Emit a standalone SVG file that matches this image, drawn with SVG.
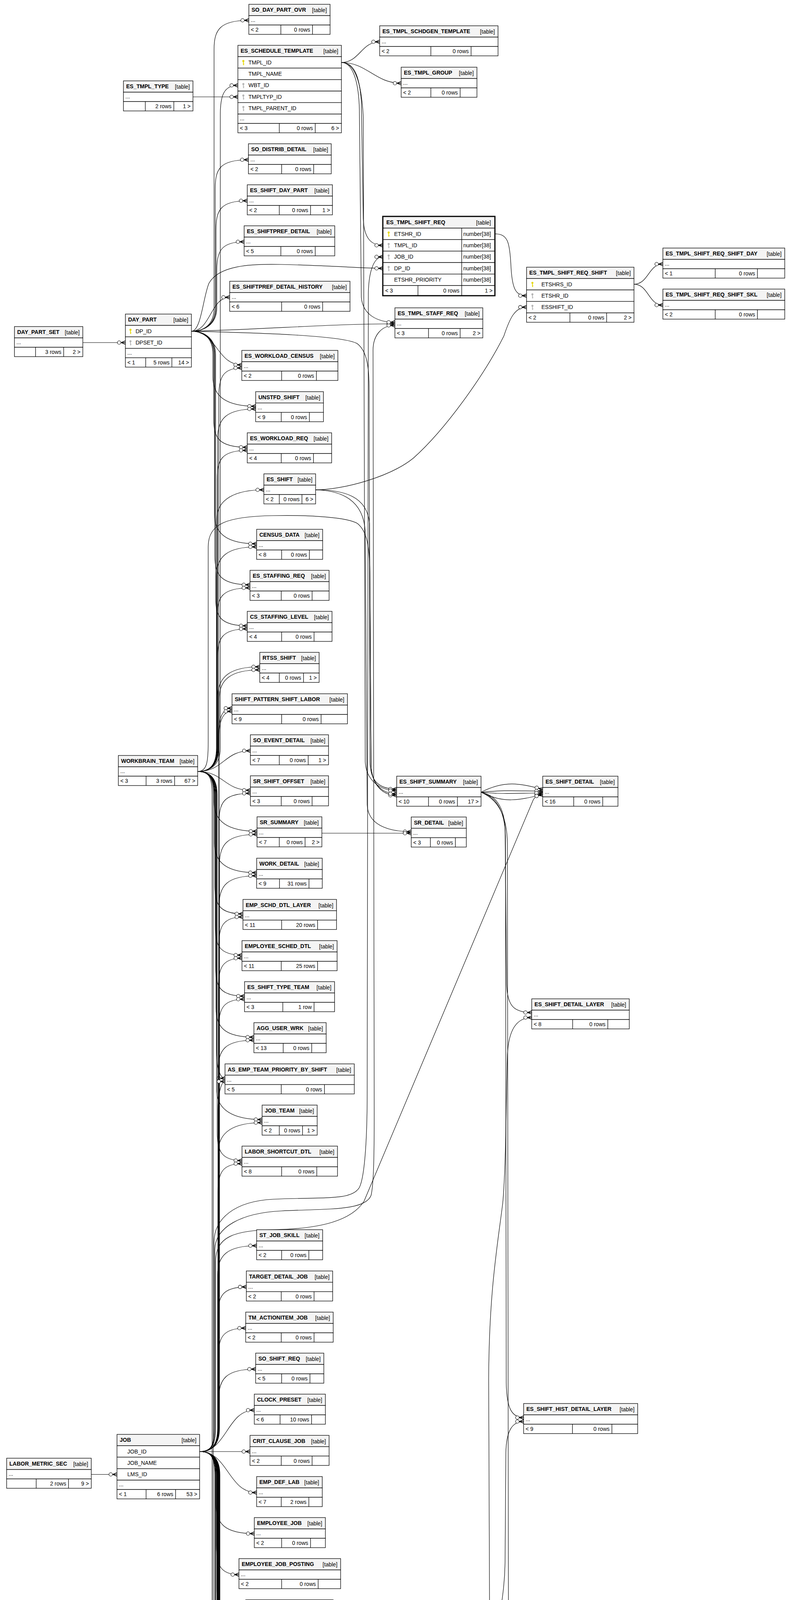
<svg xmlns="http://www.w3.org/2000/svg" width="2025" height="6158" viewBox="0 0 2025 6158">
<style>
.h{fill:#f4f4f4;stroke:#000;stroke-width:1.3}
.b{fill:#fff;stroke:#000;stroke-width:1.3}
.l{fill:none;stroke:#000;stroke-width:1.3}
.n{font-family:"Liberation Sans",Arial,sans-serif;font-size:14px;font-weight:bold}
.s{font-family:"Liberation Sans",Arial,sans-serif;font-size:14px}
.r{text-anchor:end}
.c{fill:none;stroke:#000;stroke-width:1.2;marker-end:url(#cf)}
</style>
<defs>
<marker id="cf" viewBox="-23 -8 25 16" refX="0" refY="0" markerWidth="25" markerHeight="16" markerUnits="userSpaceOnUse" orient="auto">
<path d="M-11,0L0,-4.5M-11,0L0,4.5M-11,0L0,0" fill="none" stroke="#000" stroke-width="1.6"/>
<circle cx="-16" cy="0" r="4.5" fill="#fff" stroke="#000" stroke-width="1.2"/>
</marker>
<g id="ky"><circle cy="-3.5" r="2.6" fill="#e6d800"/><rect x="-0.9" y="-2" width="1.8" height="9" fill="#e6d800"/><rect x="0.5" y="3" width="2" height="1.3" fill="#e6d800"/><rect x="0.5" y="5.3" width="1.6" height="1.3" fill="#e6d800"/></g>
<g id="kg"><circle cy="-3.5" r="2.6" fill="#b4b4b4"/><rect x="-0.9" y="-2" width="1.8" height="9" fill="#b4b4b4"/><rect x="0.5" y="3" width="2" height="1.3" fill="#b4b4b4"/><rect x="0.5" y="5.3" width="1.6" height="1.3" fill="#b4b4b4"/></g>
</defs>
<rect width="2025" height="6158" fill="#fff"/>
<g id="connectors">
<path class="c" d="M212,877L321,877"/>
<path class="c" d="M494,248L609,248"/>
<path class="c" d="M233.6,3774.5L299.5,3774.5"/>
<path class="c" d="M490,848C520,848 548,833 548,788L548,127C548,77 562,52 637,52"/>
<path class="c" d="M490,848C520,848 551,833 551,788L551,484C551,434 561,409 636,409"/>
<path class="c" d="M490,848C520,848 553,833 553,788L553,589C553,539 563,514 633,514"/>
<path class="c" d="M490,848C520,848 555,833 555,788L555,694C555,644 565,619 625,619"/>
<path class="c" d="M490,848C539,848 539,761 588,761"/>
<path class="c" d="M490,848C515,848 520,760 535,725C560,680 640,675 720,677C850,680 930,687 980,687"/>
<path class="c" d="M490,848C700,842 850,829 1011,829"/>
<path class="c" d="M490,848C650,852 880,858 915,880C940,900 945,940 945,1000L947,1950C948,2000 970,2020 1015.5,2020"/>
<path class="c" d="M490,848C555,848 555,934 619,934"/>
<path class="c" d="M490,848C520,848 545,863 545,908L545,965C545,1015 579.5,1040 654.5,1040"/>
<path class="c" d="M490,848C520,848 547,863 547,908L547,1070C547,1120 558,1145 633,1145"/>
<path class="c" d="M490,848C520,848 549,863 549,908L549,1317C549,1367 582,1392 657,1392"/>
<path class="c" d="M490,848C520,848 550,863 550,908L550,1422C550,1472 565,1497 640,1497"/>
<path class="c" d="M490,848C520,848 552,863 552,908L552,1527C552,1577 562,1602 633,1602"/>
<path class="c" d="M506,1975C536,1975 564,1960 564,1915L564,293C564,243 574,218.5 609,218.5"/>
<path class="c" d="M506,1975C536,1975 560,1960 560,1915L560,1017C560,967 570,942 619,942"/>
<path class="c" d="M506,1975C536,1975 557,1960 557,1915L557,1122C557,1072 579.5,1047 654.5,1047"/>
<path class="c" d="M506,1975C536,1975 556,1960 556,1915L556,1228C556,1178 566,1153 633,1153"/>
<path class="c" d="M506,1975C536,1975 555,1960 555,1915L555,1329C555,1279 600.5,1254 675.5,1254"/>
<path class="c" d="M506,1975C536,1975 554,1960 554,1915L554,1475C554,1425 582,1400 657,1400"/>
<path class="c" d="M506,1975C536,1975 556,1960 556,1915L556,1580C556,1530 566,1505 640,1505"/>
<path class="c" d="M506,1975C536,1975 557,1960 557,1915L557,1685C557,1635 567,1610 633,1610"/>
<path class="c" d="M506,1975C536,1975 558,1960 558,1915L558,1782C558,1732 590,1707 665,1707"/>
<path class="c" d="M506,1975C536,1975 559,1960 559,1915L559,1888C559,1838 569,1813 594,1813"/>
<path class="c" d="M506,1975C573,1975 573,1922 641,1922"/>
<path class="c" d="M506,1975C573,1975 573,2023 641,2023"/>
<path class="c" d="M506,1975C536,1975 548,1990 548,2035L548,2053C548,2103 583,2128 658,2128"/>
<path class="c" d="M506,1975C536,1975 549,1990 549,2035L549,2159C549,2209 582,2234 657,2234"/>
<path class="c" d="M506,1975C536,1975 550,1990 550,2035L550,2264.5C550,2314.5 560,2339.5 622,2339.5"/>
<path class="c" d="M506,1975C536,1975 551,1990 551,2035L551,2370C551,2420 561,2445 619.5,2445"/>
<path class="c" d="M506,1975C536,1975 552,1990 552,2035L552,2475C552,2525 562,2550 626,2550"/>
<path class="c" d="M506,1975C536,1975 553,1990 553,2035L553,2580C553,2630 575,2655 650,2655"/>
<path class="c" d="M506,1975C536,1975 554,1990 554,2035L554,2685.5C554,2735.5 564,2760.5 576,2760.5"/>
<path class="c" d="M506,1975C536,1975 555,1990 555,2035L555,2791C555,2841 596,2866 671,2866"/>
<path class="c" d="M506,1975C536,1975 556,1990 556,2035L556,2896C556,2946 566,2971 619.5,2971"/>
<path class="c" d="M506,1975C536,1975 546,1990 546,2035L546,5990C546,6040 620,6051 740,6051C840,6051 890,6035 915,6015C1010,5925 1160,5760 1210,5620C1250,5500 1254,5300 1254,5050L1254,4300C1254,4000 1250,3700 1251,3530C1252,3300 1275,3180 1287,3080C1295,3000 1296,2800 1299,2700C1302,2640 1320,2605 1361.3,2605"/>
<path class="c" d="M506,1975C536,1975 543,1990 543,2035L543,6040C543,6090 640,6107 780,6107C950,6107 1150,6075 1230,6020C1300,5975 1322,5900 1320,5850C1318,5780 1288,5720 1291,5660C1294,5625 1315,5606 1361,5606"/>
<path class="c" d="M506,1975C530,1975 533,1950 533,1900L533,1400C533,1340 580,1322 700,1320C800,1318 890,1325 915,1340C940,1360 947,1400 947,1480L950,1960C952,2005 975,2036 1015.5,2036"/>
<path class="c" d="M511,3716C541,3716 561,3701 561,3656L561,1790C561,1740 590,1715 665,1715"/>
<path class="c" d="M511,3716C541,3716 560,3701 560,3656L560,1896C560,1846 570,1821 594,1821"/>
<path class="c" d="M511,3716C541,3716 561,3701 561,3656L561,2106C561,2056 571,2031 641,2031"/>
<path class="c" d="M511,3716C541,3716 562,3701 562,3656L562,2211C562,2161 583,2136 658,2136"/>
<path class="c" d="M511,3716C541,3716 561,3701 561,3656L561,2317C561,2267 582,2242 657,2242"/>
<path class="c" d="M511,3716C541,3716 560,3701 560,3656L560,2422.5C560,2372.5 570,2347.5 622,2347.5"/>
<path class="c" d="M511,3716C541,3716 559,3701 559,3656L559,2528C559,2478 569,2453 619.5,2453"/>
<path class="c" d="M511,3716C541,3716 560,3701 560,3656L560,2633C560,2583 570,2558 626,2558"/>
<path class="c" d="M511,3716C541,3716 559,3701 559,3656L559,2738C559,2688 575,2663 650,2663"/>
<path class="c" d="M511,3716C541,3716 558,3701 558,3656L558,2843.5C558,2793.5 568,2768.5 576,2768.5"/>
<path class="c" d="M511,3716C541,3716 559,3701 559,3656L559,2949C559,2899 596,2874 671,2874"/>
<path class="c" d="M511,3716C541,3716 558,3701 558,3656L558,3054C558,3004 568,2979 619.5,2979"/>
<path class="c" d="M511,3716C541,3716 557,3701 557,3656L557,3264C557,3214 582,3189 657,3189"/>
<path class="c" d="M511,3716C541,3716 558,3701 558,3656L558,3369.6C558,3319.6 568,3294.6 630.6,3294.6"/>
<path class="c" d="M511,3716C541,3716 559,3701 559,3656L559,3475C559,3425 569,3400 629,3400"/>
<path class="c" d="M511,3716C541,3716 560,3701 560,3656L560,3580C560,3530 579.5,3505 654.5,3505"/>
<path class="c" d="M511,3716C581,3716 581,3610 651,3610"/>
<path class="c" d="M511,3716L640,3716"/>
<path class="c" d="M511,3716C584,3716 584,3821 657,3821"/>
<path class="c" d="M511,3716C541,3716 553,3731 553,3776L553,3851C553,3901 576,3926 651,3926"/>
<path class="c" d="M511,3716C541,3716 554,3731 554,3776L554,3956C554,4006 564,4031 611.7,4031"/>
<path class="c" d="M511,3716C541,3716 555,3731 555,3776L555,4061.5C555,4111.5 565,4136.5 629,4136.5"/>
<path class="c" d="M511,3716C541,3716 556,3731 556,3776L556,4163C556,4213 566,4238 628,4238"/>
<path class="c" d="M511,3716C541,3716 552,3731 552,3776L552,4171C552,4221 562,4246 628,4246"/>
<path class="c" d="M511,3716C541,3716 557,3731 557,3776L557,4272.4C557,4322.4 590,4347.4 665,4347.4"/>
<path class="c" d="M511,3716C541,3716 558,3731 558,3776L558,4377.7C558,4427.7 568,4452.7 634,4452.7"/>
<path class="c" d="M511,3716C541,3716 559,3731 559,3776L559,4483C559,4533 596,4558 671,4558"/>
<path class="c" d="M511,3716C541,3716 560,3731 560,3776L560,4588.8C560,4638.8 581,4663.8 656,4663.8"/>
<path class="c" d="M511,3716C541,3716 561,3731 561,3776L561,4729.8C561,4779.8 571,4804.8 631,4804.8"/>
<path class="c" d="M511,3716C541,3716 562,3731 562,3776L562,4835C562,4885 572,4910 613,4910"/>
<path class="c" d="M511,3716C541,3716 562,3731 562,3776L562,4941C562,4991 572,5016 595.6,5016"/>
<path class="c" d="M511,3716C541,3716 563,3731 563,3776L563,5046C563,5096 573,5121 635.6,5121"/>
<path class="c" d="M511,3716C541,3716 562,3731 562,3776L562,5151.4C562,5201.4 572,5226.4 629,5226.4"/>
<path class="c" d="M511,3716C541,3716 561,3731 561,3776L561,5257C561,5307 571,5332 625,5332"/>
<path class="c" d="M511,3716C541,3716 560,3731 560,3776L560,5362C560,5412 570,5437 635.6,5437"/>
<path class="c" d="M511,3716C541,3716 559,3731 559,3776L559,5467C559,5517 569,5542 625,5542"/>
<path class="c" d="M511,3716C541,3716 558,3731 558,3776L558,5572.6C558,5622.6 568,5647.6 642.6,5647.6"/>
<path class="c" d="M511,3716C541,3716 557,3731 557,3776L557,5677.8C557,5727.8 567,5752.8 640,5752.8"/>
<path class="c" d="M511,3716C541,3716 556,3731 556,3776L556,5779C556,5829 566,5854 626.5,5854"/>
<path class="c" d="M511,3716C541,3716 551,3731 551,3776L551,5787C551,5837 561,5862 626.5,5862"/>
<path class="c" d="M511,3716C541,3716 555,3731 555,3776L555,5889C555,5939 569,5964 644,5964"/>
<path class="c" d="M511,3716C541,3716 550,3731 550,3776L550,4660C550,4700 580,4725 700,4730C800,4733 880,4726 915,4714C960,4695 1050,4590 1100,4529C1200,4400 1290,4200 1293,4000L1295,3720C1296,3665 1310,3639 1340.5,3639"/>
<path class="c" d="M511,3716C541,3716 548,3701 548,3656L548,3180C548,3120 600,3075 700,3070C820,3064 900,3075 920,3040C935,3010 940,2900 940,2800L943,750C944,700 955,657.5 980,657.5"/>
<path class="c" d="M511,3716C541,3716 550,3701 550,3656L550,3200C550,3140 620,3105 720,3100C840,3094 935,3100 950,3060C957,3030 958,2950 958,2850L955,900C954,860 975,833 1011,833"/>
<path class="c" d="M511,3716C541,3716 552,3701 552,3656L552,3230C552,3165 600,3150 700,3148C820,3146 900,3125 932,3075L1365,2048C1372,2036 1378,2034 1389.4,2034"/>
<path class="c" d="M874,160C920,160 925,107 972,107"/>
<path class="c" d="M874,160C940,160 960,213 1027,213"/>
<path class="c" d="M874,160C905,160 920,190 925,260L930,560C932,610 950,628 980,628"/>
<path class="c" d="M874,160C900,160 918,200 920,280L925,760C928,805 965,825 1011,825"/>
<path class="c" d="M874,160C905,160 925,200 930,300L935,1950C937,1995 970,2024 1015.5,2024"/>
<path class="c" d="M1267,598.7C1300,598.7 1305,620 1308,680C1311,740 1320,757 1348,757"/>
<path class="c" d="M1623,727.6C1660,727.6 1660,676 1697,676"/>
<path class="c" d="M1623,727.6C1660,727.6 1660,781 1697,781"/>
<path class="c" d="M808,1254C880,1254 1000,1220 1058,1173C1140,1100 1240,960 1290,860C1305,815 1318,786.3 1348,786.3"/>
<path class="c" d="M808,1254C880,1254 940,1270 946,1340L950,1960C952,2005 975,2032 1015.5,2032"/>
<path class="c" d="M808,1254C875,1256 930,1280 935,1360L940,2060C942,2110 990,2129 1052.7,2129"/>
<path class="c" d="M824,2133L1052.7,2133"/>
<path class="c" d="M1231.6,2028C1290,1998 1330,2004 1389.4,2021"/>
<path class="c" d="M1231.6,2028C1290,2022 1330,2025 1389.4,2025"/>
<path class="c" d="M1231.6,2028C1290,2034 1330,2030 1389.4,2030"/>
<path class="c" d="M1231.6,2028C1290,2058 1330,2048 1389.4,2034"/>
<path class="c" d="M1231.6,2028C1265,2035 1290,2060 1293,2120L1297,2520C1299,2575 1315,2592 1361.3,2592"/>
<path class="c" d="M1231.6,2028C1268,2040 1292,2070 1294,2140L1296,3540C1297,3605 1310,3629 1340.5,3629"/>
<path class="c" d="M1231.6,2028C1270,2045 1298,2080 1299,2160L1303,5200C1306,5450 1320,5596 1361,5596"/>
</g>
<g id="SO_DAY_PART_OVR" transform="translate(637,11)"><rect class="h" width="208" height="29"/><rect class="b" y="29" width="208" height="24"/><rect class="b" y="53" width="208" height="24"/><path class="l" d="M82,53v24M163,53v24"/><text class="n" x="7" y="19">SO_DAY_PART_OVR</text><text class="s r" x="200" y="20">[table]</text><text class="s" x="5" y="45">...</text><text class="s" x="5" y="70">&lt; 2</text><text class="s r" x="157" y="70">0 rows</text></g>
<g id="ES_TMPL_TYPE" transform="translate(316,207)"><rect class="h" width="178" height="29"/><rect class="b" y="29" width="178" height="24"/><rect class="b" y="53" width="178" height="24"/><path class="l" d="M56,53v24M129,53v24"/><text class="n" x="7" y="19">ES_TMPL_TYPE</text><text class="s r" x="170" y="20">[table]</text><text class="s" x="5" y="45">...</text><text class="s r" x="123" y="70">2 rows</text><text class="s r" x="172" y="70">1 &gt;</text></g>
<g id="ES_SCHEDULE_TEMPLATE" transform="translate(609,116)"><rect class="h" width="265" height="29"/><rect class="b" y="29" width="265" height="29.4"/><rect class="b" y="58.4" width="265" height="29.4"/><rect class="b" y="87.8" width="265" height="29.4"/><rect class="b" y="117.2" width="265" height="29.4"/><rect class="b" y="146.6" width="265" height="29.4"/><rect class="b" y="176" width="265" height="24"/><rect class="b" y="200" width="265" height="24"/><path class="l" d="M106,200v24M198,200v24"/><text class="n" x="7" y="19">ES_SCHEDULE_TEMPLATE</text><text class="s r" x="257" y="20">[table]</text><use href="#ky" x="14" y="43.7"/><text class="s" x="27" y="48.5">TMPL_ID</text><text class="s" x="27" y="77.9">TMPL_NAME</text><use href="#kg" x="14" y="102.5"/><text class="s" x="27" y="107.3">WBT_ID</text><use href="#kg" x="14" y="131.9"/><text class="s" x="27" y="136.7">TMPLTYP_ID</text><use href="#kg" x="14" y="161.3"/><text class="s" x="27" y="166.1">TMPL_PARENT_ID</text><text class="s" x="5" y="192">...</text><text class="s" x="5" y="217">&lt; 3</text><text class="s r" x="192" y="217">0 rows</text><text class="s r" x="259" y="217">6 &gt;</text></g>
<g id="ES_TMPL_SCHDGEN_TEMPLATE" transform="translate(972,66)"><rect class="h" width="303" height="29"/><rect class="b" y="29" width="303" height="24"/><rect class="b" y="53" width="303" height="24"/><path class="l" d="M131,53v24M234,53v24"/><text class="n" x="7" y="19">ES_TMPL_SCHDGEN_TEMPLATE</text><text class="s r" x="295" y="20">[table]</text><text class="s" x="5" y="45">...</text><text class="s" x="5" y="70">&lt; 2</text><text class="s r" x="228" y="70">0 rows</text></g>
<g id="ES_TMPL_GROUP" transform="translate(1027,172)"><rect class="h" width="194" height="29"/><rect class="b" y="29" width="194" height="24"/><rect class="b" y="53" width="194" height="24"/><path class="l" d="M76,53v24M151,53v24"/><text class="n" x="7" y="19">ES_TMPL_GROUP</text><text class="s r" x="186" y="20">[table]</text><text class="s" x="5" y="45">...</text><text class="s" x="5" y="70">&lt; 2</text><text class="s r" x="145" y="70">0 rows</text></g>
<g id="SO_DISTRIB_DETAIL" transform="translate(636,368)"><rect class="h" width="212" height="29"/><rect class="b" y="29" width="212" height="24"/><rect class="b" y="53" width="212" height="24"/><path class="l" d="M85,53v24M167,53v24"/><text class="n" x="7" y="19">SO_DISTRIB_DETAIL</text><text class="s r" x="204" y="20">[table]</text><text class="s" x="5" y="45">...</text><text class="s" x="5" y="70">&lt; 2</text><text class="s r" x="161" y="70">0 rows</text></g>
<g id="ES_SHIFT_DAY_PART" transform="translate(633,473)"><rect class="h" width="218" height="29"/><rect class="b" y="29" width="218" height="24"/><rect class="b" y="53" width="218" height="24"/><path class="l" d="M82,53v24M162,53v24"/><text class="n" x="7" y="19">ES_SHIFT_DAY_PART</text><text class="s r" x="210" y="20">[table]</text><text class="s" x="5" y="45">...</text><text class="s" x="5" y="70">&lt; 2</text><text class="s r" x="156" y="70">0 rows</text><text class="s r" x="212" y="70">1 &gt;</text></g>
<g id="ES_SHIFTPREF_DETAIL" transform="translate(625,578)"><rect class="h" width="232" height="29"/><rect class="b" y="29" width="232" height="24"/><rect class="b" y="53" width="232" height="24"/><path class="l" d="M94,53v24M182,53v24"/><text class="n" x="7" y="19">ES_SHIFTPREF_DETAIL</text><text class="s r" x="224" y="20">[table]</text><text class="s" x="5" y="45">...</text><text class="s" x="5" y="70">&lt; 5</text><text class="s r" x="176" y="70">0 rows</text></g>
<g id="ES_TMPL_SHIFT_REQ" transform="translate(980,554)"><rect class="h" width="287" height="30"/><rect class="b" y="30" width="287" height="29.4"/><rect class="b" y="59.4" width="287" height="29.4"/><rect class="b" y="88.8" width="287" height="29.4"/><rect class="b" y="118.2" width="287" height="29.4"/><rect class="b" y="147.6" width="287" height="29.4"/><rect class="b" y="177" width="287" height="26"/><path class="l" d="M202,30v173M90,177v26"/><rect width="287" height="203" fill="none" stroke="#000" stroke-width="3"/><text class="n" x="9" y="20">ES_TMPL_SHIFT_REQ</text><text class="s r" x="277" y="21">[table]</text><use href="#ky" x="15" y="44.7"/><text class="s" x="29" y="49.5">ETSHR_ID</text><text class="s" x="206" y="49.5">number[38]</text><use href="#kg" x="15" y="74.1"/><text class="s" x="29" y="78.9">TMPL_ID</text><text class="s" x="206" y="78.9">number[38]</text><use href="#kg" x="15" y="103.5"/><text class="s" x="29" y="108.3">JOB_ID</text><text class="s" x="206" y="108.3">number[38]</text><use href="#kg" x="15" y="132.9"/><text class="s" x="29" y="137.7">DP_ID</text><text class="s" x="206" y="137.7">number[38]</text><text class="s" x="29" y="167.1">ETSHR_PRIORITY</text><text class="s" x="206" y="167.1">number[38]</text><text class="s" x="6" y="195">&lt; 3</text><text class="s r" x="196" y="195">0 rows</text><text class="s r" x="281" y="195">1 &gt;</text></g>
<g id="ES_TMPL_SHIFT_REQ_SHIFT" transform="translate(1348,684)"><rect class="h" width="275" height="29"/><rect class="b" y="29" width="275" height="29.3"/><rect class="b" y="58.3" width="275" height="29.3"/><rect class="b" y="87.6" width="275" height="29.4"/><rect class="b" y="117" width="275" height="24"/><path class="l" d="M111,117v24M205,117v24"/><text class="n" x="7" y="19">ES_TMPL_SHIFT_REQ_SHIFT</text><text class="s r" x="267" y="20">[table]</text><use href="#ky" x="15" y="43.6"/><text class="s" x="38" y="48.5">ETSHRS_ID</text><use href="#kg" x="15" y="72.9"/><text class="s" x="38" y="77.8">ETSHR_ID</text><use href="#kg" x="15" y="102.3"/><text class="s" x="38" y="107.1">ESSHIFT_ID</text><text class="s" x="5" y="134">&lt; 2</text><text class="s r" x="199" y="134">0 rows</text><text class="s r" x="269" y="134">2 &gt;</text></g>
<g id="ES_TMPL_SHIFT_REQ_SHIFT_DAY" transform="translate(1697,635)"><rect class="h" width="312" height="29"/><rect class="b" y="29" width="312" height="24"/><rect class="b" y="53" width="312" height="24"/><path class="l" d="M134,53v24M242,53v24"/><text class="n" x="7" y="19">ES_TMPL_SHIFT_REQ_SHIFT_DAY</text><text class="s r" x="304" y="20">[table]</text><text class="s" x="5" y="45">...</text><text class="s" x="5" y="70">&lt; 1</text><text class="s r" x="236" y="70">0 rows</text></g>
<g id="ES_TMPL_SHIFT_REQ_SHIFT_SKL" transform="translate(1697,740)"><rect class="h" width="312" height="29"/><rect class="b" y="29" width="312" height="24"/><rect class="b" y="53" width="312" height="24"/><path class="l" d="M134,53v24M242,53v24"/><text class="n" x="7" y="19">ES_TMPL_SHIFT_REQ_SHIFT_SKL</text><text class="s r" x="304" y="20">[table]</text><text class="s" x="5" y="45">...</text><text class="s" x="5" y="70">&lt; 2</text><text class="s r" x="236" y="70">0 rows</text></g>
<g id="ES_SHIFTPREF_DETAIL_HISTORY" transform="translate(588,720)"><rect class="h" width="308" height="29"/><rect class="b" y="29" width="308" height="24"/><rect class="b" y="53" width="308" height="24"/><path class="l" d="M133,53v24M238,53v24"/><text class="n" x="7" y="19">ES_SHIFTPREF_DETAIL_HISTORY</text><text class="s r" x="300" y="20">[table]</text><text class="s" x="5" y="45">...</text><text class="s" x="5" y="70">&lt; 6</text><text class="s r" x="232" y="70">0 rows</text></g>
<g id="ES_TMPL_STAFF_REQ" transform="translate(1011,788)"><rect class="h" width="225" height="29"/><rect class="b" y="29" width="225" height="24"/><rect class="b" y="53" width="225" height="24"/><path class="l" d="M86,53v24M167,53v24"/><text class="n" x="7" y="19">ES_TMPL_STAFF_REQ</text><text class="s r" x="217" y="20">[table]</text><text class="s" x="5" y="45">...</text><text class="s" x="5" y="70">&lt; 3</text><text class="s r" x="161" y="70">0 rows</text><text class="s r" x="219" y="70">2 &gt;</text></g>
<g id="DAY_PART_SET" transform="translate(37,836)"><rect class="h" width="175" height="29"/><rect class="b" y="29" width="175" height="24"/><rect class="b" y="53" width="175" height="24"/><path class="l" d="M54,53v24M126,53v24"/><text class="n" x="7" y="19">DAY_PART_SET</text><text class="s r" x="167" y="20">[table]</text><text class="s" x="5" y="45">...</text><text class="s r" x="120" y="70">3 rows</text><text class="s r" x="169" y="70">2 &gt;</text></g>
<g id="DAY_PART" transform="translate(321,804)"><rect class="h" width="169" height="29"/><rect class="b" y="29" width="169" height="29.4"/><rect class="b" y="58.4" width="169" height="29.4"/><rect class="b" y="87.8" width="169" height="24"/><rect class="b" y="111.8" width="169" height="24"/><path class="l" d="M52,111.8v24M119,111.8v24"/><text class="n" x="7" y="19">DAY_PART</text><text class="s r" x="161" y="20">[table]</text><use href="#ky" x="13" y="43.7"/><text class="s" x="26" y="48.5">DP_ID</text><use href="#kg" x="13" y="73.1"/><text class="s" x="26" y="77.9">DPSET_ID</text><text class="s" x="5" y="103.8">...</text><text class="s" x="5" y="128.8">&lt; 1</text><text class="s r" x="113" y="128.8">5 rows</text><text class="s r" x="163" y="128.8">14 &gt;</text></g>
<g id="ES_WORKLOAD_CENSUS" transform="translate(619,897)"><rect class="h" width="246" height="29"/><rect class="b" y="29" width="246" height="24"/><rect class="b" y="53" width="246" height="24"/><path class="l" d="M102,53v24M191,53v24"/><text class="n" x="7" y="19">ES_WORKLOAD_CENSUS</text><text class="s r" x="238" y="20">[table]</text><text class="s" x="5" y="45">...</text><text class="s" x="5" y="70">&lt; 2</text><text class="s r" x="185" y="70">0 rows</text></g>
<g id="UNSTFD_SHIFT" transform="translate(654.5,1002.6)"><rect class="h" width="173.5" height="29"/><rect class="b" y="29" width="173.5" height="24"/><rect class="b" y="53" width="173.5" height="24"/><path class="l" d="M65.5,53v24M137.5,53v24"/><text class="n" x="7" y="19">UNSTFD_SHIFT</text><text class="s r" x="165.5" y="20">[table]</text><text class="s" x="5" y="45">...</text><text class="s" x="5" y="70">&lt; 9</text><text class="s r" x="131.5" y="70">0 rows</text></g>
<g id="ES_WORKLOAD_REQ" transform="translate(633,1108)"><rect class="h" width="216" height="29"/><rect class="b" y="29" width="216" height="24"/><rect class="b" y="53" width="216" height="24"/><path class="l" d="M87,53v24M169.5,53v24"/><text class="n" x="7" y="19">ES_WORKLOAD_REQ</text><text class="s r" x="208" y="20">[table]</text><text class="s" x="5" y="45">...</text><text class="s" x="5" y="70">&lt; 4</text><text class="s r" x="163.5" y="70">0 rows</text></g>
<g id="ES_SHIFT" transform="translate(675.5,1213)"><rect class="h" width="132.5" height="29"/><rect class="b" y="29" width="132.5" height="24"/><rect class="b" y="53" width="132.5" height="24"/><path class="l" d="M39.5,53v24M97.5,53v24"/><text class="n" x="7" y="19">ES_SHIFT</text><text class="s r" x="124.5" y="20">[table]</text><text class="s" x="5" y="45">...</text><text class="s" x="5" y="70">&lt; 2</text><text class="s r" x="91.5" y="70">0 rows</text><text class="s r" x="126.5" y="70">6 &gt;</text></g>
<g id="CENSUS_DATA" transform="translate(657,1355)"><rect class="h" width="169" height="29"/><rect class="b" y="29" width="169" height="24"/><rect class="b" y="53" width="169" height="24"/><path class="l" d="M64,53v24M135,53v24"/><text class="n" x="7" y="19">CENSUS_DATA</text><text class="s r" x="161" y="20">[table]</text><text class="s" x="5" y="45">...</text><text class="s" x="5" y="70">&lt; 8</text><text class="s r" x="129" y="70">0 rows</text></g>
<g id="ES_STAFFING_REQ" transform="translate(640,1460)"><rect class="h" width="202.5" height="29"/><rect class="b" y="29" width="202.5" height="24"/><rect class="b" y="53" width="202.5" height="24"/><path class="l" d="M80,53v24M159,53v24"/><text class="n" x="7" y="19">ES_STAFFING_REQ</text><text class="s r" x="194.5" y="20">[table]</text><text class="s" x="5" y="45">...</text><text class="s" x="5" y="70">&lt; 3</text><text class="s r" x="153" y="70">0 rows</text></g>
<g id="CS_STAFFING_LEVEL" transform="translate(633,1565)"><rect class="h" width="217" height="29"/><rect class="b" y="29" width="217" height="24"/><rect class="b" y="53" width="217" height="24"/><path class="l" d="M88,53v24M171,53v24"/><text class="n" x="7" y="19">CS_STAFFING_LEVEL</text><text class="s r" x="209" y="20">[table]</text><text class="s" x="5" y="45">...</text><text class="s" x="5" y="70">&lt; 4</text><text class="s r" x="165" y="70">0 rows</text></g>
<g id="RTSS_SHIFT" transform="translate(665,1670)"><rect class="h" width="152" height="29"/><rect class="b" y="29" width="152" height="24"/><rect class="b" y="53" width="152" height="24"/><path class="l" d="M50,53v24M112,53v24"/><text class="n" x="7" y="19">RTSS_SHIFT</text><text class="s r" x="144" y="20">[table]</text><text class="s" x="5" y="45">...</text><text class="s" x="5" y="70">&lt; 4</text><text class="s r" x="106" y="70">0 rows</text><text class="s r" x="146" y="70">1 &gt;</text></g>
<g id="SHIFT_PATTERN_SHIFT_LABOR" transform="translate(594,1776)"><rect class="h" width="295.5" height="29"/><rect class="b" y="29" width="295.5" height="24"/><rect class="b" y="53" width="295.5" height="24"/><path class="l" d="M127,53v24M228,53v24"/><text class="n" x="7" y="19">SHIFT_PATTERN_SHIFT_LABOR</text><text class="s r" x="287.5" y="20">[table]</text><text class="s" x="5" y="45">...</text><text class="s" x="5" y="70">&lt; 9</text><text class="s r" x="222" y="70">0 rows</text></g>
<g id="SO_EVENT_DETAIL" transform="translate(641,1881)"><rect class="h" width="200" height="29"/><rect class="b" y="29" width="200" height="24"/><rect class="b" y="53" width="200" height="24"/><path class="l" d="M74,53v24M148,53v24"/><text class="n" x="7" y="19">SO_EVENT_DETAIL</text><text class="s r" x="192" y="20">[table]</text><text class="s" x="5" y="45">...</text><text class="s" x="5" y="70">&lt; 7</text><text class="s r" x="142" y="70">0 rows</text><text class="s r" x="194" y="70">1 &gt;</text></g>
<g id="WORKBRAIN_TEAM" transform="translate(303,1934)"><rect class="h" width="203" height="29"/><rect class="b" y="29" width="203" height="24"/><rect class="b" y="53" width="203" height="24"/><path class="l" d="M71,53v24M144,53v24"/><text class="n" x="7" y="19">WORKBRAIN_TEAM</text><text class="s r" x="195" y="20">[table]</text><text class="s" x="5" y="45">...</text><text class="s" x="5" y="70">&lt; 3</text><text class="s r" x="138" y="70">3 rows</text><text class="s r" x="197" y="70">67 &gt;</text></g>
<g id="SR_SHIFT_OFFSET" transform="translate(641,1986)"><rect class="h" width="200" height="29"/><rect class="b" y="29" width="200" height="24"/><rect class="b" y="53" width="200" height="24"/><path class="l" d="M79,53v24M158,53v24"/><text class="n" x="7" y="19">SR_SHIFT_OFFSET</text><text class="s r" x="192" y="20">[table]</text><text class="s" x="5" y="45">...</text><text class="s" x="5" y="70">&lt; 3</text><text class="s r" x="152" y="70">0 rows</text></g>
<g id="ES_SHIFT_SUMMARY" transform="translate(1015.5,1987)"><rect class="h" width="216" height="29"/><rect class="b" y="29" width="216" height="24"/><rect class="b" y="53" width="216" height="24"/><path class="l" d="M81.5,53v24M155.5,53v24"/><text class="n" x="7" y="19">ES_SHIFT_SUMMARY</text><text class="s r" x="208" y="20">[table]</text><text class="s" x="5" y="45">...</text><text class="s" x="5" y="70">&lt; 10</text><text class="s r" x="149.5" y="70">0 rows</text><text class="s r" x="210" y="70">17 &gt;</text></g>
<g id="ES_SHIFT_DETAIL" transform="translate(1389.4,1987)"><rect class="h" width="192.6" height="29"/><rect class="b" y="29" width="192.6" height="24"/><rect class="b" y="53" width="192.6" height="24"/><path class="l" d="M79.3,53v24M153.6,53v24"/><text class="n" x="7" y="19">ES_SHIFT_DETAIL</text><text class="s r" x="184.6" y="20">[table]</text><text class="s" x="5" y="45">...</text><text class="s" x="5" y="70">&lt; 16</text><text class="s r" x="147.6" y="70">0 rows</text></g>
<g id="SR_SUMMARY" transform="translate(658,2091)"><rect class="h" width="166" height="29"/><rect class="b" y="29" width="166" height="24"/><rect class="b" y="53" width="166" height="24"/><path class="l" d="M57,53v24M123,53v24"/><text class="n" x="7" y="19">SR_SUMMARY</text><text class="s r" x="158" y="20">[table]</text><text class="s" x="5" y="45">...</text><text class="s" x="5" y="70">&lt; 7</text><text class="s r" x="117" y="70">0 rows</text><text class="s r" x="160" y="70">2 &gt;</text></g>
<g id="SR_DETAIL" transform="translate(1052.7,2091.5)"><rect class="h" width="141" height="29"/><rect class="b" y="29" width="141" height="24"/><rect class="b" y="53" width="141" height="24"/><path class="l" d="M49,53v24M113,53v24"/><text class="n" x="7" y="19">SR_DETAIL</text><text class="s r" x="133" y="20">[table]</text><text class="s" x="5" y="45">...</text><text class="s" x="5" y="70">&lt; 3</text><text class="s r" x="107" y="70">0 rows</text></g>
<g id="WORK_DETAIL" transform="translate(657,2197)"><rect class="h" width="168" height="29"/><rect class="b" y="29" width="168" height="24"/><rect class="b" y="53" width="168" height="24"/><path class="l" d="M58.5,53v24M134,53v24"/><text class="n" x="7" y="19">WORK_DETAIL</text><text class="s r" x="160" y="20">[table]</text><text class="s" x="5" y="45">...</text><text class="s" x="5" y="70">&lt; 9</text><text class="s r" x="128" y="70">31 rows</text></g>
<g id="EMP_SCHD_DTL_LAYER" transform="translate(622,2302.5)"><rect class="h" width="239.5" height="29"/><rect class="b" y="29" width="239.5" height="24"/><rect class="b" y="53" width="239.5" height="24"/><path class="l" d="M99,53v24M191,53v24"/><text class="n" x="7" y="19">EMP_SCHD_DTL_LAYER</text><text class="s r" x="231.5" y="20">[table]</text><text class="s" x="5" y="45">...</text><text class="s" x="5" y="70">&lt; 11</text><text class="s r" x="185" y="70">20 rows</text></g>
<g id="EMPLOYEE_SCHED_DTL" transform="translate(619.5,2408)"><rect class="h" width="243.5" height="29"/><rect class="b" y="29" width="243.5" height="24"/><rect class="b" y="53" width="243.5" height="24"/><path class="l" d="M100.5,53v24M193.5,53v24"/><text class="n" x="7" y="19">EMPLOYEE_SCHED_DTL</text><text class="s r" x="235.5" y="20">[table]</text><text class="s" x="5" y="45">...</text><text class="s" x="5" y="70">&lt; 11</text><text class="s r" x="187.5" y="70">25 rows</text></g>
<g id="ES_SHIFT_TYPE_TEAM" transform="translate(626,2513)"><rect class="h" width="230.5" height="29"/><rect class="b" y="29" width="230.5" height="24"/><rect class="b" y="53" width="230.5" height="24"/><path class="l" d="M98,53v24M178,53v24"/><text class="n" x="7" y="19">ES_SHIFT_TYPE_TEAM</text><text class="s r" x="222.5" y="20">[table]</text><text class="s" x="5" y="45">...</text><text class="s" x="5" y="70">&lt; 3</text><text class="s r" x="172" y="70">1 row</text></g>
<g id="ES_SHIFT_DETAIL_LAYER" transform="translate(1361.3,2557)"><rect class="h" width="249.7" height="29"/><rect class="b" y="29" width="249.7" height="24"/><rect class="b" y="53" width="249.7" height="24"/><path class="l" d="M104.7,53v24M194.7,53v24"/><text class="n" x="7" y="19">ES_SHIFT_DETAIL_LAYER</text><text class="s r" x="241.7" y="20">[table]</text><text class="s" x="5" y="45">...</text><text class="s" x="5" y="70">&lt; 8</text><text class="s r" x="188.7" y="70">0 rows</text></g>
<g id="AGG_USER_WRK" transform="translate(650,2618)"><rect class="h" width="185" height="29"/><rect class="b" y="29" width="185" height="24"/><rect class="b" y="53" width="185" height="24"/><path class="l" d="M75,53v24M148,53v24"/><text class="n" x="7" y="19">AGG_USER_WRK</text><text class="s r" x="177" y="20">[table]</text><text class="s" x="5" y="45">...</text><text class="s" x="5" y="70">&lt; 13</text><text class="s r" x="142" y="70">0 rows</text></g>
<g id="AS_EMP_TEAM_PRIORITY_BY_SHIFT" transform="translate(576,2723.5)"><rect class="h" width="331" height="29"/><rect class="b" y="29" width="331" height="24"/><rect class="b" y="53" width="331" height="24"/><path class="l" d="M144,53v24M254.6,53v24"/><text class="n" x="7" y="19">AS_EMP_TEAM_PRIORITY_BY_SHIFT</text><text class="s r" x="323" y="20">[table]</text><text class="s" x="5" y="45">...</text><text class="s" x="5" y="70">&lt; 5</text><text class="s r" x="248.6" y="70">0 rows</text></g>
<g id="JOB_TEAM" transform="translate(671,2829)"><rect class="h" width="141" height="29"/><rect class="b" y="29" width="141" height="24"/><rect class="b" y="53" width="141" height="24"/><path class="l" d="M44,53v24M103.5,53v24"/><text class="n" x="7" y="19">JOB_TEAM</text><text class="s r" x="133" y="20">[table]</text><text class="s" x="5" y="45">...</text><text class="s" x="5" y="70">&lt; 2</text><text class="s r" x="97.5" y="70">0 rows</text><text class="s r" x="135" y="70">1 &gt;</text></g>
<g id="LABOR_SHORTCUT_DTL" transform="translate(619.5,2934)"><rect class="h" width="244.5" height="29"/><rect class="b" y="29" width="244.5" height="24"/><rect class="b" y="53" width="244.5" height="24"/><path class="l" d="M101.5,53v24M191.5,53v24"/><text class="n" x="7" y="19">LABOR_SHORTCUT_DTL</text><text class="s r" x="236.5" y="20">[table]</text><text class="s" x="5" y="45">...</text><text class="s" x="5" y="70">&lt; 8</text><text class="s r" x="185.5" y="70">0 rows</text></g>
<g id="ST_JOB_SKILL" transform="translate(657,3148)"><rect class="h" width="169" height="29"/><rect class="b" y="29" width="169" height="24"/><rect class="b" y="53" width="169" height="24"/><path class="l" d="M64,53v24M133.6,53v24"/><text class="n" x="7" y="19">ST_JOB_SKILL</text><text class="s r" x="161" y="20">[table]</text><text class="s" x="5" y="45">...</text><text class="s" x="5" y="70">&lt; 2</text><text class="s r" x="127.6" y="70">0 rows</text></g>
<g id="TARGET_DETAIL_JOB" transform="translate(630.6,3253.6)"><rect class="h" width="221" height="29"/><rect class="b" y="29" width="221" height="24"/><rect class="b" y="53" width="221" height="24"/><path class="l" d="M89.4,53v24M173.4,53v24"/><text class="n" x="7" y="19">TARGET_DETAIL_JOB</text><text class="s r" x="213" y="20">[table]</text><text class="s" x="5" y="45">...</text><text class="s" x="5" y="70">&lt; 2</text><text class="s r" x="167.4" y="70">0 rows</text></g>
<g id="TM_ACTIONITEM_JOB" transform="translate(629,3359)"><rect class="h" width="224" height="29"/><rect class="b" y="29" width="224" height="24"/><rect class="b" y="53" width="224" height="24"/><path class="l" d="M91,53v24M175,53v24"/><text class="n" x="7" y="19">TM_ACTIONITEM_JOB</text><text class="s r" x="216" y="20">[table]</text><text class="s" x="5" y="45">...</text><text class="s" x="5" y="70">&lt; 2</text><text class="s r" x="169" y="70">0 rows</text></g>
<g id="SO_SHIFT_REQ" transform="translate(654.5,3464)"><rect class="h" width="174.5" height="29"/><rect class="b" y="29" width="174.5" height="24"/><rect class="b" y="53" width="174.5" height="24"/><path class="l" d="M66.5,53v24M139,53v24"/><text class="n" x="7" y="19">SO_SHIFT_REQ</text><text class="s r" x="166.5" y="20">[table]</text><text class="s" x="5" y="45">...</text><text class="s" x="5" y="70">&lt; 5</text><text class="s r" x="133" y="70">0 rows</text></g>
<g id="CLOCK_PRESET" transform="translate(651,3569)"><rect class="h" width="182" height="29"/><rect class="b" y="29" width="182" height="24"/><rect class="b" y="53" width="182" height="24"/><path class="l" d="M66,53v24M146.6,53v24"/><text class="n" x="7" y="19">CLOCK_PRESET</text><text class="s r" x="174" y="20">[table]</text><text class="s" x="5" y="45">...</text><text class="s" x="5" y="70">&lt; 6</text><text class="s r" x="140.6" y="70">10 rows</text></g>
<g id="ES_SHIFT_HIST_DETAIL_LAYER" transform="translate(1340.5,3593)"><rect class="h" width="292" height="29"/><rect class="b" y="29" width="292" height="24"/><rect class="b" y="53" width="292" height="24"/><path class="l" d="M125,53v24M226,53v24"/><text class="n" x="7" y="19">ES_SHIFT_HIST_DETAIL_LAYER</text><text class="s r" x="284" y="20">[table]</text><text class="s" x="5" y="45">...</text><text class="s" x="5" y="70">&lt; 9</text><text class="s r" x="220" y="70">0 rows</text></g>
<g id="CRIT_CLAUSE_JOB" transform="translate(640,3674.5)"><rect class="h" width="202.5" height="29"/><rect class="b" y="29" width="202.5" height="24"/><rect class="b" y="53" width="202.5" height="24"/><path class="l" d="M80,53v24M159,53v24"/><text class="n" x="7" y="19">CRIT_CLAUSE_JOB</text><text class="s r" x="194.5" y="20">[table]</text><text class="s" x="5" y="45">...</text><text class="s" x="5" y="70">&lt; 2</text><text class="s r" x="153" y="70">0 rows</text></g>
<g id="JOB" transform="translate(299.5,3672)"><rect class="h" width="211.5" height="29"/><rect class="b" y="29" width="211.5" height="29.4"/><rect class="b" y="58.4" width="211.5" height="29.4"/><rect class="b" y="87.8" width="211.5" height="29.4"/><rect class="b" y="117.2" width="211.5" height="24"/><rect class="b" y="141.2" width="211.5" height="24"/><path class="l" d="M74.5,141.2v24M150,141.2v24"/><text class="n" x="7" y="19">JOB</text><text class="s r" x="203.5" y="20">[table]</text><text class="s" x="26.5" y="48.5">JOB_ID</text><text class="s" x="26.5" y="77.9">JOB_NAME</text><text class="s" x="26.5" y="107.3">LMS_ID</text><text class="s" x="5" y="133.2">...</text><text class="s" x="5" y="158.2">&lt; 1</text><text class="s r" x="144" y="158.2">6 rows</text><text class="s r" x="205.5" y="158.2">53 &gt;</text></g>
<g id="LABOR_METRIC_SEC" transform="translate(17,3733)"><rect class="h" width="216.6" height="29"/><rect class="b" y="29" width="216.6" height="24"/><rect class="b" y="53" width="216.6" height="24"/><path class="l" d="M75.6,53v24M158.4,53v24"/><text class="n" x="7" y="19">LABOR_METRIC_SEC</text><text class="s r" x="208.6" y="20">[table]</text><text class="s" x="5" y="45">...</text><text class="s r" x="152.4" y="70">2 rows</text><text class="s r" x="210.6" y="70">9 &gt;</text></g>
<g id="EMP_DEF_LAB" transform="translate(657,3780)"><rect class="h" width="168" height="29"/><rect class="b" y="29" width="168" height="24"/><rect class="b" y="53" width="168" height="24"/><path class="l" d="M63,53v24M133.6,53v24"/><text class="n" x="7" y="19">EMP_DEF_LAB</text><text class="s r" x="160" y="20">[table]</text><text class="s" x="5" y="45">...</text><text class="s" x="5" y="70">&lt; 7</text><text class="s r" x="127.6" y="70">2 rows</text></g>
<g id="EMPLOYEE_JOB" transform="translate(651,3885)"><rect class="h" width="182" height="29"/><rect class="b" y="29" width="182" height="24"/><rect class="b" y="53" width="182" height="24"/><path class="l" d="M70,53v24M144,53v24"/><text class="n" x="7" y="19">EMPLOYEE_JOB</text><text class="s r" x="174" y="20">[table]</text><text class="s" x="5" y="45">...</text><text class="s" x="5" y="70">&lt; 2</text><text class="s r" x="138" y="70">0 rows</text></g>
<g id="EMPLOYEE_JOB_POSTING" transform="translate(611.7,3990)"><rect class="h" width="260.3" height="29"/><rect class="b" y="29" width="260.3" height="24"/><rect class="b" y="53" width="260.3" height="24"/><path class="l" d="M109.3,53v24M202.8,53v24"/><text class="n" x="7" y="19">EMPLOYEE_JOB_POSTING</text><text class="s r" x="252.3" y="20">[table]</text><text class="s" x="5" y="45">...</text><text class="s" x="5" y="70">&lt; 2</text><text class="s r" x="196.8" y="70">0 rows</text></g>
<g id="ES_CLIST_EMPLOYEE" transform="translate(629,4095.5)"><rect class="h" width="224" height="29"/><rect class="b" y="29" width="224" height="24"/><rect class="b" y="53" width="224" height="24"/><path class="l" d="M91,53v24M175,53v24"/><text class="n" x="7" y="19">ES_CLIST_EMPLOYEE</text><text class="s r" x="216" y="20">[table]</text><text class="s" x="5" y="45">...</text><text class="s" x="5" y="70">&lt; 3</text><text class="s r" x="169" y="70">0 rows</text></g>
<g id="ES_JOB_ASSOCIATION" transform="translate(628,4201)"><rect class="h" width="228.5" height="29"/><rect class="b" y="29" width="228.5" height="24"/><rect class="b" y="53" width="228.5" height="24"/><path class="l" d="M93,53v24M178.7,53v24"/><text class="n" x="7" y="19">ES_JOB_ASSOCIATION</text><text class="s r" x="220.5" y="20">[table]</text><text class="s" x="5" y="45">...</text><text class="s" x="5" y="70">&lt; 2</text><text class="s r" x="172.7" y="70">0 rows</text></g>
<g id="ES_ROW_LM" transform="translate(665,4306.4)"><rect class="h" width="153.7" height="29"/><rect class="b" y="29" width="153.7" height="24"/><rect class="b" y="53" width="153.7" height="24"/><path class="l" d="M50,53v24M113.7,53v24"/><text class="n" x="7" y="19">ES_ROW_LM</text><text class="s r" x="145.7" y="20">[table]</text><text class="s" x="5" y="45">...</text><text class="s" x="5" y="70">&lt; 9</text><text class="s r" x="107.7" y="70">0 rows</text><text class="s r" x="147.7" y="70">1 &gt;</text></g>
<g id="ES_SHIFT_HIST_DET" transform="translate(634,4411.7)"><rect class="h" width="214" height="29"/><rect class="b" y="29" width="214" height="24"/><rect class="b" y="53" width="214" height="24"/><path class="l" d="M90,53v24M171,53v24"/><text class="n" x="7" y="19">ES_SHIFT_HIST_DET</text><text class="s r" x="206" y="20">[table]</text><text class="s" x="5" y="45">...</text><text class="s" x="5" y="70">&lt; 10</text><text class="s r" x="165" y="70">0 rows</text></g>
<g id="JOB_RATE" transform="translate(671,4517)"><rect class="h" width="140" height="29"/><rect class="b" y="29" width="140" height="24"/><rect class="b" y="53" width="140" height="24"/><path class="l" d="M49,53v24M112,53v24"/><text class="n" x="7" y="19">JOB_RATE</text><text class="s r" x="132" y="20">[table]</text><text class="s" x="5" y="45">...</text><text class="s" x="5" y="70">&lt; 1</text><text class="s r" x="106" y="70">6 rows</text></g>
<g id="JOB_RDR_GRP" transform="translate(656,4622.8)"><rect class="h" width="172" height="29"/><rect class="b" y="29" width="172" height="24"/><rect class="b" y="53" width="172" height="24"/><path class="l" d="M65,53v24M134.6,53v24"/><text class="n" x="7" y="19">JOB_RDR_GRP</text><text class="s r" x="164" y="20">[table]</text><text class="s" x="5" y="45">...</text><text class="s" x="5" y="70">&lt; 2</text><text class="s r" x="128.6" y="70">0 rows</text></g>
<g id="MP_DAILY_OVERRIDE" transform="translate(631,4763.8)"><rect class="h" width="220.6" height="29"/><rect class="b" y="29" width="220.6" height="24"/><rect class="b" y="53" width="220.6" height="24"/><path class="l" d="M90,53v24M173,53v24"/><text class="n" x="7" y="19">MP_DAILY_OVERRIDE</text><text class="s r" x="212.6" y="20">[table]</text><text class="s" x="5" y="45">...</text><text class="s" x="5" y="70">&lt; 4</text><text class="s r" x="167" y="70">0 rows</text></g>
<g id="MP_TEMPLATE_OVERRIDE" transform="translate(613,4869)"><rect class="h" width="257.6" height="29"/><rect class="b" y="29" width="257.6" height="24"/><rect class="b" y="53" width="257.6" height="24"/><path class="l" d="M108,53v24M200,53v24"/><text class="n" x="7" y="19">MP_TEMPLATE_OVERRIDE</text><text class="s r" x="249.6" y="20">[table]</text><text class="s" x="5" y="45">...</text><text class="s" x="5" y="70">&lt; 4</text><text class="s r" x="194" y="70">0 rows</text></g>
<g id="MP_TEMPLATE_REQUIREMENT" transform="translate(595.6,4975)"><rect class="h" width="291.8" height="29"/><rect class="b" y="29" width="291.8" height="24"/><rect class="b" y="53" width="291.8" height="24"/><path class="l" d="M125.4,53v24M226.4,53v24"/><text class="n" x="7" y="19">MP_TEMPLATE_REQUIREMENT</text><text class="s r" x="283.8" y="20">[table]</text><text class="s" x="5" y="45">...</text><text class="s" x="5" y="70">&lt; 4</text><text class="s r" x="220.4" y="70">0 rows</text></g>
<g id="SB_SCHD_BID_SPAT" transform="translate(635.6,5080)"><rect class="h" width="211.8" height="29"/><rect class="b" y="29" width="211.8" height="24"/><rect class="b" y="53" width="211.8" height="24"/><path class="l" d="M82.4,53v24M155,53v24"/><text class="n" x="7" y="19">SB_SCHD_BID_SPAT</text><text class="s r" x="203.8" y="20">[table]</text><text class="s" x="5" y="45">...</text><text class="s" x="5" y="70">&lt; 3</text><text class="s r" x="149" y="70">1 row</text><text class="s r" x="205.8" y="70">2 &gt;</text></g>
<g id="SCHED_COST_DETAIL" transform="translate(629,5185.4)"><rect class="h" width="224" height="29"/><rect class="b" y="29" width="224" height="24"/><rect class="b" y="53" width="224" height="24"/><path class="l" d="M91,53v24M175,53v24"/><text class="n" x="7" y="19">SCHED_COST_DETAIL</text><text class="s r" x="216" y="20">[table]</text><text class="s" x="5" y="45">...</text><text class="s" x="5" y="70">&lt; 8</text><text class="s r" x="169" y="70">0 rows</text></g>
<g id="SHIFT_PREMIUM_ZONE" transform="translate(625,5291)"><rect class="h" width="232" height="29"/><rect class="b" y="29" width="232" height="24"/><rect class="b" y="53" width="232" height="24"/><path class="l" d="M93,53v24M171,53v24"/><text class="n" x="7" y="19">SHIFT_PREMIUM_ZONE</text><text class="s r" x="224" y="20">[table]</text><text class="s" x="5" y="45">...</text><text class="s" x="5" y="70">&lt; 6</text><text class="s r" x="165" y="70">1 row</text><text class="s r" x="226" y="70">1 &gt;</text></g>
<g id="SO_CLIENT_STFDEF" transform="translate(635.6,5396)"><rect class="h" width="211.8" height="29"/><rect class="b" y="29" width="211.8" height="24"/><rect class="b" y="53" width="211.8" height="24"/><path class="l" d="M79.4,53v24M157.8,53v24"/><text class="n" x="7" y="19">SO_CLIENT_STFDEF</text><text class="s r" x="203.8" y="20">[table]</text><text class="s" x="5" y="45">...</text><text class="s" x="5" y="70">&lt; 5</text><text class="s r" x="151.8" y="70">0 rows</text><text class="s r" x="205.8" y="70">6 &gt;</text></g>
<g id="SO_CLIENTYP_STFDEF" transform="translate(625,5501)"><rect class="h" width="232" height="29"/><rect class="b" y="29" width="232" height="24"/><rect class="b" y="53" width="232" height="24"/><path class="l" d="M95,53v24M181.7,53v24"/><text class="n" x="7" y="19">SO_CLIENTYP_STFDEF</text><text class="s r" x="224" y="20">[table]</text><text class="s" x="5" y="45">...</text><text class="s" x="5" y="70">&lt; 4</text><text class="s r" x="175.7" y="70">0 rows</text></g>
<g id="SO_HIST_INT_REQ" transform="translate(642.6,5606.6)"><rect class="h" width="198.4" height="29"/><rect class="b" y="29" width="198.4" height="24"/><rect class="b" y="53" width="198.4" height="24"/><path class="l" d="M78.4,53v24M156.4,53v24"/><text class="n" x="7" y="19">SO_HIST_INT_REQ</text><text class="s r" x="190.4" y="20">[table]</text><text class="s" x="5" y="45">...</text><text class="s" x="5" y="70">&lt; 6</text><text class="s r" x="150.4" y="70">0 rows</text></g>
<g id="SO_INTERVAL_REQ" transform="translate(640,5711.8)"><rect class="h" width="204" height="29"/><rect class="b" y="29" width="204" height="24"/><rect class="b" y="53" width="204" height="24"/><path class="l" d="M81,53v24M160,53v24"/><text class="n" x="7" y="19">SO_INTERVAL_REQ</text><text class="s r" x="196" y="20">[table]</text><text class="s" x="5" y="45">...</text><text class="s" x="5" y="70">&lt; 6</text><text class="s r" x="154" y="70">0 rows</text></g>
<g id="SO_POSN_SET_ELMTS" transform="translate(626.5,5817)"><rect class="h" width="230.5" height="29"/><rect class="b" y="29" width="230.5" height="24"/><rect class="b" y="53" width="230.5" height="24"/><path class="l" d="M94.5,53v24M180.2,53v24"/><text class="n" x="7" y="19">SO_POSN_SET_ELMTS</text><text class="s r" x="222.5" y="20">[table]</text><text class="s" x="5" y="45">...</text><text class="s" x="5" y="70">&lt; 2</text><text class="s r" x="174.2" y="70">0 rows</text></g>
<g id="SO_SHIFT_DETAIL" transform="translate(644,5923)"><rect class="h" width="194" height="29"/><rect class="b" y="29" width="194" height="24"/><rect class="b" y="53" width="194" height="24"/><path class="l" d="M71,53v24M144.5,53v24"/><text class="n" x="7" y="19">SO_SHIFT_DETAIL</text><text class="s r" x="186" y="20">[table]</text><text class="s" x="5" y="45">...</text><text class="s" x="5" y="70">&lt; 7</text><text class="s r" x="138.5" y="70">0 rows</text><text class="s r" x="188" y="70">1 &gt;</text></g>
<g id="ES_ROTROW_CONFLICTS" transform="translate(1361,5560)"><rect class="h" width="251" height="29"/><rect class="b" y="29" width="251" height="24"/><rect class="b" y="53" width="251" height="24"/><path class="l" d="M104.4,53v24M195.6,53v24"/><text class="n" x="7" y="19">ES_ROTROW_CONFLICTS</text><text class="s r" x="243" y="20">[table]</text><text class="s" x="5" y="45">...</text><text class="s" x="5" y="70">&lt; 8</text><text class="s r" x="189.6" y="70">0 rows</text></g>
<text class="s" x="16" y="6142">Generated by SchemaSpy</text>
</svg>
